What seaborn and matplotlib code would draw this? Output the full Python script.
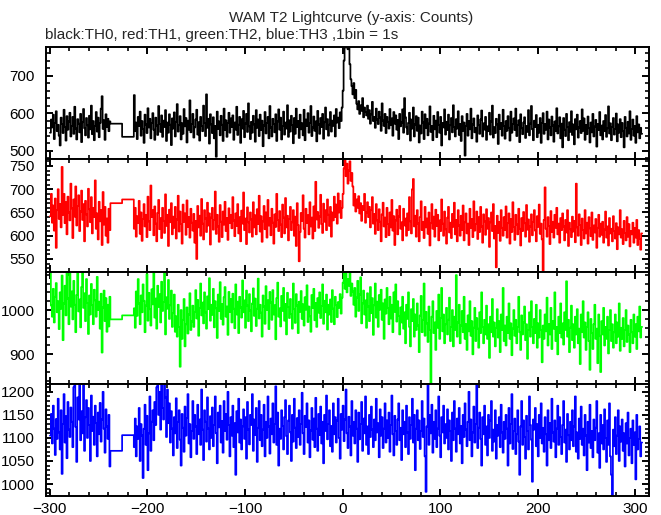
import matplotlib
matplotlib.use("Agg")
import matplotlib.pyplot as plt
import matplotlib.ticker as mticker
import numpy as np
import seaborn as sns

# Time axis in seconds from trigger, 1 s bins. Values read (estimated) off the plot.
BIN = 1
PRE_START = -300
POST_START = -214
GAP_EDGES = [-238, -226, -214]

# TH0 (black)
th0_pre = [548, 583, 562, 596, 531, 574, 605, 552, 569, 540,
           514, 588, 571, 547, 609, 563, 527, 592, 556, 578,
           601, 538, 566, 590, 545, 617, 559, 530, 584, 572,
           549, 598, 523, 576, 611, 560, 541, 587, 568, 535,
           593, 557, 620, 544, 579, 528, 566, 603, 551, 588,
           536, 574, 612, 645, 558, 581, 529, 597, 563, 585,
           552, 578]
th0_gap = [572, 537]
th0_post = [648, 552, 575, 531, 590, 566, 604, 540, 579, 558,
            521, 596, 570, 547, 613, 562, 585, 533, 574, 600,
            556, 529, 588, 567, 542, 619, 571, 550, 594, 537,
            580, 563, 608, 526, 575, 548, 597, 569, 515, 586,
            559, 602, 538, 577, 624, 551, 568, 592, 530, 573,
            545, 611, 565, 587, 522, 580, 556, 634, 549, 571,
            598, 535, 562, 583, 609, 543, 576, 527, 590, 566,
            552, 620, 574, 539, 650, 561, 585, 519, 597, 570,
            547, 589, 533, 566, 484, 604, 558, 578, 541, 593,
            569, 526, 612, 555, 581, 537, 574, 601, 548, 586,
            563, 594, 529, 575, 556, 617, 542, 569, 590, 521,
            584, 559, 606, 536, 572, 598, 550, 626, 565, 531,
            577, 548, 593, 570, 524, 608, 561, 583, 539, 596,
            555, 580, 512, 567, 603, 546, 574, 590, 533, 619,
            562, 538, 585, 571, 549, 597, 526, 578, 610, 556,
            588, 530, 566, 604, 543, 575, 559, 621, 537, 581,
            551, 593, 568, 520, 587, 545, 612, 563, 579, 534,
            596, 557, 573, 541, 609, 528, 583, 566, 600, 548,
            574, 619, 539, 562, 591, 553, 578, 525, 606, 570,
            545, 587, 563, 598, 532, 576, 615, 557, 584, 540,
            569, 603, 551, 580, 566, 594, 538, 611, 575, 588,
            560, 602, 579, 615, 660, 740, 790, 775, 800, 770,
            785, 730, 690, 672, 650, 680, 640, 662, 625, 610,
            632, 598, 621, 606, 640, 589, 615, 603, 594, 620,
            585, 608, 572, 597, 630, 579, 590, 561, 612, 583,
            571, 604, 588, 553, 626, 580, 566, 598, 547, 590,
            577, 559, 611, 568, 586, 540, 603, 572, 594, 556,
            582, 531, 598, 565, 575, 610, 548, 640, 589, 562,
            544, 574, 601, 527, 583, 559, 615, 538, 570, 592,
            553, 588, 522, 567, 546, 604, 575, 531, 597, 560,
            585, 541, 572, 618, 550, 566, 528, 593, 557, 580,
            536, 603, 569, 548, 590, 514, 574, 562, 610, 543,
            577, 555, 596, 530, 568, 587, 549, 621, 563, 538,
            584, 559, 605, 542, 571, 526, 592, 553, 575, 487,
            566, 598, 540, 579, 557, 612, 533, 570, 586, 549,
            561, 524, 594, 568, 545, 583, 607, 538, 573, 556,
            590, 529, 565, 552, 601, 543, 578, 620, 535, 563,
            547, 585, 570, 518, 596, 558, 574, 540, 609, 566,
            532, 579, 553, 592, 561, 527, 604, 548, 571, 586,
            555, 612, 539, 568, 581, 523, 597, 560, 544, 575,
            589, 534, 566, 550, 608, 541, 572, 619, 557, 528,
            580, 563, 595, 536, 569, 548, 587, 521, 574, 600,
            545, 571, 556, 604, 530, 583, 562, 541, 591, 567,
            524, 578, 552, 613, 546, 565, 589, 533, 572, 509,
            587, 556, 539, 598, 563, 528, 576, 550, 605, 542,
            570, 517, 584, 557, 596, 535, 562, 579, 547, 610,
            553, 586, 529, 568, 544, 591, 560, 522, 575, 549,
            598, 538, 564, 582, 511, 571, 555, 603, 541, 567,
            530, 579, 552, 595, 537, 560, 618, 546, 573, 528,
            563, 587, 543, 558, 599, 525, 570, 548, 584, 536,
            574, 552, 509, 590, 561, 538, 577, 546, 605, 529,
            558, 583, 540, 566, 521, 592, 549, 570, 533, 561,
            545]

# TH1 (red)
th1_pre = [642, 690, 628, 665, 611, 680, 574, 655, 700, 636,
           668, 618, 748, 645, 690, 627, 672, 603, 684, 650,
           633, 712, 659, 595, 678, 641, 706, 622, 664, 687,
           610, 652, 697, 634, 668, 588, 675, 646, 620, 701,
           657, 629, 683, 605, 660, 640, 719, 615, 648, 592,
           673, 631, 655, 580, 694, 624, 662, 600, 637, 585,
           658, 612]
th1_gap = [670, 678]
th1_post = [615, 660, 598, 642, 627, 675, 604, 650, 589, 636,
            668, 620, 645, 597, 684, 631, 612, 708, 640, 655,
            601, 663, 626, 588, 649, 677, 614, 638, 595, 660,
            632, 606, 689, 621, 645, 578, 656, 629, 670, 603,
            641, 617, 662, 594, 635, 686, 609, 652, 625, 583,
            667, 630, 648, 602, 676, 619, 640, 596, 658, 628,
            611, 647, 585, 632, 550, 664, 618, 643, 600, 679,
            626, 592, 655, 637, 608, 671, 622, 648, 581, 639,
            660, 613, 634, 695, 604, 645, 620, 587, 666, 630,
            597, 652, 624, 673, 610, 638, 591, 659, 627, 645,
            616, 683, 633, 599, 648, 621, 668, 605, 640, 588,
            654, 626, 693, 612, 637, 582, 661, 629, 607, 650,
            635, 598, 672, 618, 644, 603, 657, 625, 686, 609,
            642, 587, 631, 664, 614, 650, 596, 677, 622, 638,
            601, 658, 628, 583, 646, 619, 690, 634, 610, 653,
            624, 597, 667, 639, 605, 681, 618, 643, 590, 636,
            662, 612, 629, 655, 600, 641, 578, 670, 623, 545,
            608, 649, 632, 687, 615, 596, 658, 627, 644, 603,
            672, 620, 639, 594, 663, 610, 716, 635, 651, 617,
            641, 688, 625, 606, 669, 630, 655, 612, 678, 645,
            621, 662, 598, 650, 633, 684, 640, 667, 626, 691,
            650, 675, 638, 660, 690, 745, 762, 728, 755, 712,
            740, 760, 718, 735, 706, 665, 690, 652, 678, 660,
            685, 648, 670, 632, 664, 655, 690, 628, 650, 672,
            640, 662, 618, 655, 683, 626, 647, 604, 668, 633,
            612, 657, 630, 588, 646, 671, 620, 639, 597, 660,
            625, 601, 650, 618, 677, 611, 642, 580, 633, 656,
            603, 641, 664, 615, 629, 590, 658, 622, 637, 600,
            648, 612, 683, 631, 605, 700, 722, 620, 643, 598,
            655, 626, 588, 640, 674, 612, 630, 595, 662, 618,
            637, 604, 650, 579, 627, 668, 615, 641, 598, 656,
            621, 645, 590, 633, 610, 678, 626, 600, 652, 614,
            583, 639, 662, 607, 628, 595, 647, 619, 671, 603,
            634, 588, 655, 622, 600, 643, 612, 665, 590, 629,
            648, 605, 626, 580, 658, 617, 636, 597, 674, 611,
            625, 652, 593, 640, 608, 662, 620, 585, 646, 631,
            602, 657, 615, 638, 576, 629, 650, 610, 668, 594,
            621, 532, 643, 606, 630, 589, 655, 617, 600, 640,
            612, 663, 596, 627, 648, 583, 636, 608, 672, 619,
            591, 645, 624, 603, 658, 615, 579, 638, 610, 651,
            627, 598, 666, 613, 635, 587, 620, 646, 601, 630,
            655, 611, 588, 642, 619, 667, 604, 626, 592, 522,
            634, 704, 615, 598, 640, 621, 582, 653, 608, 630,
            596, 645, 617, 660, 603, 626, 585, 638, 612, 648,
            620, 590, 634, 607, 655, 578, 628, 614, 597, 641,
            609, 632, 586, 712, 618, 600, 646, 623, 580, 637,
            612, 594, 655, 605, 628, 583, 640, 616, 599, 650,
            591, 622, 607, 636, 574, 617, 645, 598, 626, 602,
            630, 585, 613, 652, 596, 620, 579, 638, 605, 615,
            588, 642, 610, 594, 627, 571, 618, 603, 655, 596,
            614, 582, 632, 606, 590, 640, 598, 625, 577, 610,
            603, 628, 585, 617, 596, 634, 580, 612, 593, 570,
            605]

# TH2 (green)
th2_pre = [1092, 1010, 985, 1048, 972, 1030, 1061, 995, 1020, 957,
           1040, 1003, 1078, 932, 1015, 1055, 988, 1090, 1026, 968,
           1095, 1008, 1042, 979, 1066, 1012, 950, 1034, 1088, 997,
           1024, 961, 1052, 1093, 1005, 1038, 975, 1070, 1016, 946,
           1033, 990, 1059, 1011, 968, 1046, 1022, 985, 1075, 1000,
           1019, 958, 1037, 904, 1006, 1044, 975, 1027, 951, 1012,
           963, 1030]
th2_gap = [979, 988]
th2_post = [1004, 960, 1042, 987, 1070, 1015, 968, 1033, 995, 1058,
            1021, 950, 1010, 1081, 976, 1039, 1002, 965, 1047, 1013,
            1090, 983, 1026, 958, 1055, 1007, 1036, 972, 1064, 998,
            1018, 1086, 945, 1029, 1003, 1068, 980, 1011, 1044, 962,
            993, 1035, 951, 986, 940, 1012, 962, 872, 1000, 935,
            978, 1025, 918, 968, 1006, 947, 990, 1038, 955, 974,
            1010, 962, 996, 1045, 981, 1023, 942, 1005, 1060, 988,
            1017, 970, 1040, 995, 958, 1031, 1002, 1072, 976, 1012,
            989, 1048, 961, 1020, 1004, 937, 1035, 998, 1063, 980,
            1014, 967, 1029, 1052, 985, 1008, 944, 1041, 996, 1025,
            972, 1037, 1003, 959, 1058, 990, 1019, 948, 1030, 1006,
            983, 1067, 995, 1022, 960, 1044, 1010, 975, 1036, 999,
            952, 1015, 1049, 987, 1026, 964, 1003, 1071, 981, 1012,
            994, 940, 1033, 1008, 969, 1054, 1000, 1022, 957, 1041,
            1017, 978, 1045, 990, 1011, 934, 1027, 1062, 985, 1004,
            963, 1032, 998, 1050, 976, 1014, 945, 1039, 1007, 982,
            1025, 991, 958, 1060, 1002, 971, 1036, 1010, 948, 1019,
            996, 1043, 980, 1013, 965, 1029, 1001, 1056, 973, 1008,
            986, 951, 1034, 1005, 1048, 977, 1016, 962, 1027, 994,
            1040, 982, 1009, 1058, 969, 1021, 995, 1035, 956, 1012,
            990, 1024, 973, 1045, 1003, 968, 1030, 1011, 984, 1018,
            1005, 1036, 992, 1028, 1062, 1085, 1048, 1092, 1040, 1070,
            1055, 1088, 1032, 1060, 1042, 1012, 1050, 985, 1028, 1066,
            998, 1035, 1074, 970, 1015, 1044, 990, 1022, 960, 1038,
            1008, 975, 1052, 993, 1027, 944, 1011, 1060, 983, 1019,
            962, 1034, 1001, 1046, 978, 1015, 935, 1024, 992, 1050,
            1005, 968, 1030, 981, 1012, 950, 1040, 996, 1058, 974,
            1020, 987, 945, 1006, 972, 1030, 958, 995, 925, 1012,
            980, 1040, 962, 918, 1002, 975, 1025, 940, 990, 955,
            1015, 965, 905, 988, 1032, 950, 978, 1060, 942, 996,
            970, 928, 1008, 955, 835, 985, 1020, 948, 972, 910,
            998, 960, 1035, 935, 982, 1050, 952, 990, 925, 968,
            1005, 945, 978, 1028, 930, 962, 1000, 918, 985, 955,
            1079, 940, 972, 1012, 925, 965, 998, 950, 1030, 935,
            968, 910, 988, 952, 1020, 942, 975, 900, 960, 1005,
            930, 982, 958, 915, 995, 948, 1040, 962, 925, 978,
            945, 1010, 935, 968, 892, 985, 950, 1025, 940, 972,
            918, 960, 1002, 938, 975, 905, 990, 955, 1050, 930,
            965, 920, 985, 948, 1015, 935, 970, 898, 958, 1000,
            942, 978, 925, 962, 1030, 950, 910, 988, 945, 972,
            1008, 932, 968, 890, 955, 995, 940, 1020, 962, 925,
            980, 948, 1012, 915, 970, 938, 1000, 955, 882, 965,
            935, 990, 952, 1028, 920, 968, 945, 1005, 912, 975,
            958, 1040, 930, 962, 900, 985, 948, 1015, 938, 970,
            922, 995, 955, 1065, 940, 978, 905, 960, 1010, 932,
            968, 915, 985, 945, 1002, 925, 958, 878, 990, 950,
            1020, 938, 972, 910, 962, 995, 930, 865, 980, 948,
            912, 968, 1012, 935, 958, 880, 990, 942, 860, 975,
            945, 1005, 920, 962, 935, 985, 902, 955, 1000, 930,
            968, 915, 950, 990, 925, 972, 940, 1015, 908, 960,
            935, 982, 918, 955, 1000, 928, 965, 945, 905, 978,
            950, 925, 990, 940, 968, 912, 985, 952, 1008, 938,
            962]

# TH3 (blue)
th3_pre = [1105, 1152, 1088, 1170, 1120, 1063, 1141, 1098, 1185, 1112,
           1075, 1160, 1022, 1130, 1195, 1090, 1147, 1056, 1178, 1118,
           1102, 1166, 1135, 1080, 1210, 1225, 1124, 1048, 1188, 1140,
           1222, 1095, 1158, 1110, 1230, 1072, 1145, 1182, 1100, 1165,
           1128, 1050, 1192, 1115, 1146, 1085, 1170, 1132, 1060, 1155,
           1108, 1176, 1092, 1140, 1200, 1120, 1068, 1162, 1125, 1098,
           1150, 1038]
th3_gap = [1072, 1106]
th3_post = [1080, 1142, 1060, 1125, 1098, 1165, 1050, 1130, 1105, 1013,
            1120, 1172, 1085, 1148, 1030, 1110, 1190, 1072, 1135, 1160,
            1095, 1178, 1128, 1210, 1222, 1150, 1200, 1118, 1225, 1165,
            1140, 1218, 1188, 1102, 1205, 1132, 1175, 1090, 1158, 1120,
            1062, 1145, 1110, 1186, 1078, 1135, 1160, 1096, 1040, 1152,
            1122, 1070, 1168, 1105, 1143, 1195, 1088, 1130, 1058, 1115,
            1180, 1098, 1150, 1125, 1065, 1172, 1108, 1140, 1085, 1205,
            1118, 1052, 1160, 1135, 1092, 1188, 1120, 1075, 1147, 1100,
            1166, 1082, 1128, 1190, 1110, 1045, 1155, 1123, 1170, 1090,
            1137, 1068, 1180, 1115, 1152, 1096, 1200, 1128, 1060, 1145,
            1105, 1170, 1080, 1132, 1020, 1158, 1112, 1185, 1090, 1140,
            1075, 1125, 1162, 1098, 1145, 1055, 1178, 1118, 1086, 1150,
            1128, 1195, 1072, 1140, 1106, 1165, 1048, 1122, 1180, 1095,
            1150, 1082, 1118, 1172, 1060, 1135, 1100, 1190, 1125, 1066,
            1142, 1108, 1175, 1090, 1130, 1212, 1085, 1155, 1040, 1120,
            1098, 1160, 1126, 1075, 1145, 1182, 1104, 1065, 1138, 1170,
            1112, 1050, 1150, 1092, 1185, 1122, 1078, 1143, 1102, 1160,
            1085, 1130, 1198, 1110, 1065, 1148, 1124, 1175, 1090, 1138,
            1058, 1116, 1165, 1096, 1142, 1080, 1187, 1120, 1072, 1152,
            1106, 1168, 1088, 1135, 1045, 1150, 1115, 1192, 1097, 1130,
            1160, 1082, 1126, 1070, 1175, 1108, 1145, 1090, 1138, 1185,
            1100, 1055, 1152, 1118, 1170, 1093, 1140, 1205, 1110, 1078,
            1146, 1125, 1062, 1180, 1105, 1135, 1088, 1160, 1120, 1048,
            1155, 1097, 1130, 1178, 1072, 1142, 1110, 1190, 1085, 1125,
            1065, 1150, 1102, 1168, 1118, 1080, 1140, 1095, 1185, 1112,
            1132, 1058, 1162, 1105, 1145, 1078, 1120, 1175, 1090, 1138,
            1100, 1155, 1070, 1128, 1192, 1108, 1062, 1148, 1115, 1085,
            1140, 1175, 1095, 1122, 1052, 1160, 1108, 1135, 1080, 1170,
            1112, 1065, 1145, 1098, 1128, 1185, 1090, 1150, 1030, 1120,
            1160, 1095, 1138, 1076, 1115, 1180, 1102, 1142, 1060, 983,
            1125, 1218, 1085, 1150, 1110, 1172, 1068, 1135, 1098, 1160,
            1080, 1120, 1190, 1105, 1058, 1145, 1112, 1170, 1088, 1130,
            1100, 1162, 1075, 1138, 1115, 1050, 1155, 1095, 1180, 1120,
            1070, 1142, 1108, 1165, 1088, 1126, 1045, 1150, 1102, 1175,
            1118, 1082, 1135, 1200, 1095, 1140, 1060, 1112, 1168, 1090,
            1130, 1215, 1078, 1122, 1155, 1098, 1040, 1145, 1108, 1170,
            1085, 1125, 1062, 1150, 1100, 1138, 1180, 1072, 1118, 1092,
            1160, 1055, 1128, 1105, 1145, 1080, 1172, 1112, 1068, 1135,
            1098, 1150, 1120, 1040, 1165, 1088, 1130, 1195, 1076, 1115,
            1142, 1065, 1108, 1160, 1092, 1020, 1125, 1180, 1085, 1138,
            1102, 1055, 1148, 1115, 1075, 1190, 1128, 1096, 1005, 1140,
            1118, 1165, 1082, 1130, 1060, 1150, 1100, 1175, 1088, 1122,
            1070, 1145, 1108, 1040, 1160, 1095, 1132, 1078, 1185, 1112,
            1092, 1138, 1058, 1120, 1170, 1085, 1145, 1102, 1065, 1128,
            1180, 1090, 1118, 1048, 1152, 1106, 1075, 1135, 1095, 1160,
            1082, 1125, 1190, 1070, 1112, 1055, 1142, 1098, 1168, 1085,
            1120, 1062, 1150, 1105, 1030, 1135, 1090, 1172, 1078, 1115,
            1058, 1140, 1095, 1122, 1180, 1068, 1110, 1035, 1150, 1088,
            1128, 1075, 1162, 1100, 1048, 1138, 1085, 1175, 1060, 1020,
            975, 1118, 1082, 1145, 1065, 1105, 1160, 1050, 1125, 1092,
            1140, 1072, 1110, 1038, 1132, 1088, 1155, 1062, 1100, 1120,
            1045, 1138, 1085, 1112, 1010, 1150, 1075, 1098, 1125, 1060,
            1090]

x_ticks = [-300, -200, -100, 0, 100, 200, 300]


def build_curve(pre, gap, post):
    # left bin edges, plus the closing edge so the last step is drawn
    pre_edges = PRE_START + BIN * np.arange(len(pre))
    post_edges = POST_START + BIN * np.arange(len(post))
    x = np.concatenate([pre_edges, GAP_EDGES[:-1], post_edges, [post_edges[-1] + BIN]])
    y = np.concatenate([pre, gap, post, [post[-1]]]).astype(float)
    return x, y


sns.set_style("ticks")
plt.rcParams["font.family"] = ["Liberation Sans", "DejaVu Sans"]

W, H = 661, 515
fig = plt.figure(figsize=(W / 100, H / 100), dpi=100)

left, right = 46, 649
rows = [(47, 159), (159, 272), (272, 384), (384, 496)]

panels = [
    (th0_pre, th0_gap, th0_post, "#000000", (478, 776), 100, 20),
    (th1_pre, th1_gap, th1_post, "#ff0000", (522, 765), 50, 10),
    (th2_pre, th2_gap, th2_post, "#00ff00", (833, 1086), 100, 20),
    (th3_pre, th3_gap, th3_post, "#0000ff", (974, 1217), 50, 10),
]

for k, (pre, gap, post, color, ylim, major, minor) in enumerate(panels):
    top, bottom = rows[k]
    ax = fig.add_axes([left / W, 1 - bottom / H, (right - left) / W, (bottom - top) / H])
    x, y = build_curve(pre, gap, post)
    sns.lineplot(x=x, y=y, ax=ax, color=color, linewidth=1.25, drawstyle="steps-post",
                 estimator=None, sort=False)
    ax.set_xlim(-304, 314)
    ax.set_ylim(*ylim)
    ax.set_xlabel("")
    ax.set_ylabel("")

    ax.xaxis.set_major_locator(mticker.FixedLocator(x_ticks))
    ax.xaxis.set_minor_locator(mticker.MultipleLocator(20))
    ax.yaxis.set_major_locator(mticker.MultipleLocator(major))
    ax.yaxis.set_minor_locator(mticker.MultipleLocator(minor))

    ax.tick_params(which="both", direction="in", top=True, right=True,
                   color="black", labelsize=11, labelcolor="black")
    ax.tick_params(which="major", length=5, width=1.4)
    ax.tick_params(which="minor", length=2.7, width=1.2)
    ax.tick_params(axis="y", pad=8)
    ax.tick_params(axis="x", pad=4)
    if k < 3:
        ax.tick_params(axis="x", labelbottom=False)

    for s in ax.spines.values():
        s.set_linewidth(1.4)
        s.set_color("black")
    ax.set_facecolor("white")

fig.text(351 / W, 1 - 18 / H, "WAM T2 Lightcurve (y-axis: Counts)",
         ha="center", va="center", fontsize=11)
fig.text(45 / W, 1 - 35 / H, "black:TH0, red:TH1, green:TH2, blue:TH3 ,1bin = 1s",
         ha="left", va="center", fontsize=11)

fig.savefig("out.png", dpi=100, facecolor="white")
